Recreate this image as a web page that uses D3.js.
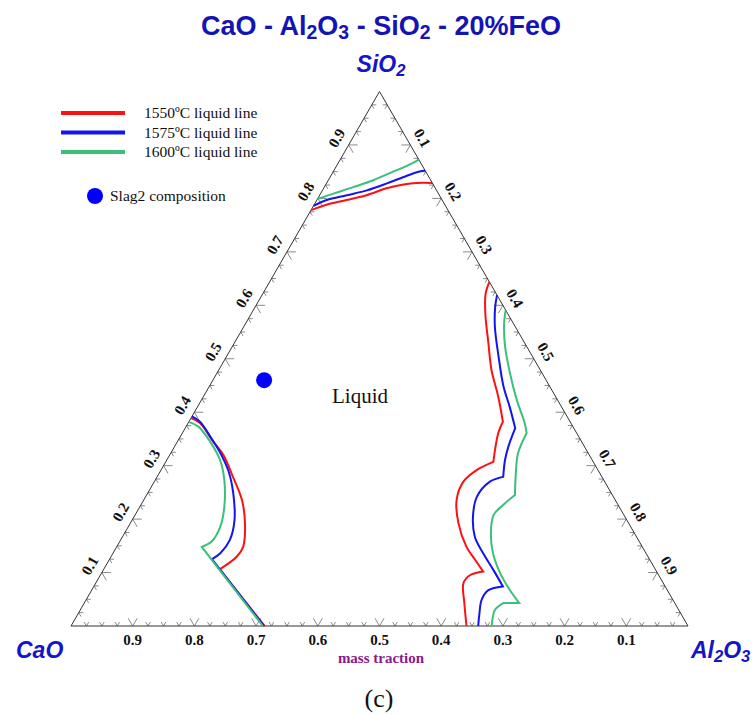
<!doctype HTML>
<html>
  <head>
    <meta charset="utf-8">
    <title>CaO - Al2O3 - SiO2 - 20%FeO</title>
    <style>
      body { margin: 0; background: #fff; }
      .edge { fill: none; stroke: #333; stroke-width: 1px; }
      .tick { fill: none; stroke: #8a8a8a; stroke-width: 1px; }
      .liq { fill: none; stroke-width: 2px; stroke-linejoin: miter; }
      .ticklabel { font-family: "Liberation Serif", serif; font-weight: bold; font-size: 15px; fill: #111; }
      .corner { font-family: "Liberation Sans", Arial, sans-serif; font-weight: bold; font-style: italic; font-size: 23px; fill: #1414c8; }
      .legend { font-family: "Liberation Serif", serif; font-size: 15.5px; fill: #111; }
    </style>
    <script src="https://d3js.org/d3.v7.min.js"></script>
  </head>
  <body>

  <svg width="752" height="715"></svg>

  <script>

  // compositions are [Al2O3, SiO2] mass fractions, CaO = 1 - Al2O3 - SiO2
  var series = ['1550ºC liquid line', '1575ºC liquid line', '1600ºC liquid line'];
  var colors = ['#ff1010', '#1414f0', '#3cbf7a'];

  var red1550Top = [[0,0.778],[0.020,0.788],[0.048,0.797],[0.076,0.806],[0.102,0.819],[0.126,0.826],[0.146,0.829],[0.171,0.829]];
  var blue1575Top = [[0,0.786],[0.016,0.797],[0.044,0.806],[0.072,0.815],[0.098,0.828],[0.119,0.840],[0.136,0.849],[0.148,0.852]];
  var green1600Top = [[0,0.799],[0.021,0.809],[0.047,0.821],[0.073,0.834],[0.097,0.850],[0.114,0.861],[0.128,0.872]];

  var red1550Left = [[0,0.389],[0.019,0.380],[0.058,0.345],[0.087,0.320],[0.123,0.279],[0.159,0.236],[0.186,0.192],[0.205,0.148],[0.204,0.130],[0.188,0.106],[0.314,0]];
  var blue1575Left = [[0,0.392],[0.018,0.382],[0.052,0.351],[0.078,0.326],[0.111,0.289],[0.139,0.248],[0.166,0.198],[0.177,0.161],[0.174,0.136],[0.166,0.125],[0.313,0]];
  var green1600Left = [[0,0.382],[0.020,0.373],[0.053,0.345],[0.086,0.311],[0.112,0.273],[0.137,0.223],[0.149,0.186],[0.149,0.158],[0.138,0.148],[0.311,0]];

  var red1550Right = [[0.356,0.644],[0.361,0.622],[0.379,0.585],[0.412,0.529],[0.442,0.479],[0.478,0.429],[0.509,0.382],[0.512,0.361],[0.531,0.307],[0.512,0.292],[0.501,0.270],[0.507,0.236],[0.532,0.192],[0.567,0.148],[0.593,0.124],[0.617,0.102],[0.599,0.095],[0.596,0.080],[0.616,0.043],[0.641,0]];
  var blue1575Right = [[0.381,0.619],[0.389,0.597],[0.407,0.560],[0.441,0.504],[0.477,0.448],[0.506,0.410],[0.535,0.370],[0.541,0.336],[0.548,0.311],[0.561,0.279],[0.544,0.270],[0.537,0.242],[0.549,0.205],[0.571,0.167],[0.600,0.136],[0.632,0.105],[0.663,0.074],[0.643,0.067],[0.641,0.049],[0.650,0.024],[0.660,0]];
  var green1600Right = [[0.409,0.591],[0.419,0.566],[0.442,0.523],[0.475,0.473],[0.511,0.423],[0.546,0.379],[0.558,0.361],[0.563,0.323],[0.578,0.286],[0.597,0.245],[0.587,0.226],[0.581,0.208],[0.594,0.173],[0.616,0.136],[0.646,0.099],[0.678,0.067],[0.705,0.043],[0.679,0.043],[0.672,0.030],[0.682,0]];

  // indices of sharp corners in each line (the line bends without rounding there)
  var kinksTop = [[], [], []];
  var kinksLeft = [[9], [9], [8]];
  var kinksRight = [[6, 8, 15], [6, 9, 16], [6, 9, 16, 17]];

  var slag2 = [0.083, 0.460];
  var tickLabels = ['0.1','0.2','0.3','0.4','0.5','0.6','0.7','0.8','0.9'];

  var curves = [
    { lines: [red1550Top, blue1575Top, green1600Top], kinks: kinksTop },
    { lines: [red1550Left, blue1575Left, green1600Left], kinks: kinksLeft },
    { lines: [red1550Right, blue1575Right, green1600Right], kinks: kinksRight }
  ];

  var $svg = d3.select('svg');

  // ternary x = Al2O3 + SiO2/2, ternary y = SiO2
  var xScale = d3.scaleLinear().domain([0, 1]).range([71, 688]);
  var yScale = d3.scaleLinear().domain([0, 1]).range([626, 91.5]);

  function project(p) {
    return [xScale(p[0] + p[1] / 2), yScale(p[1])];
  }

  var line = d3.line()
    .x(function(d){ return project(d)[0]; })
    .y(function(d){ return project(d)[1]; });

  var smooth = d3.line()
    .x(function(d){ return project(d)[0]; })
    .y(function(d){ return project(d)[1]; })
    .curve(d3.curveCatmullRom.alpha(0.5));

  // ticks: two short arms parallel to the other edges
  var s3 = Math.sqrt(3) / 2;
  var edges = [
    { at: function(v){ return [v, 0]; }, arms: [[0.5,-s3],[-0.5,-s3]] },
    { at: function(v){ return [0, v]; }, arms: [[1,0],[0.5,s3]] },
    { at: function(v){ return [v, 1 - v]; }, arms: [[-1,0],[-0.5,s3]] }
  ];
  edges.forEach(function(edge){
    d3.range(1, 40).forEach(function(i){
      var p = project(edge.at(i / 40));
      var len = i % 4 === 0 ? 9 : 4.5;
      edge.arms.forEach(function(a){
        $svg.append('line').attr('class', 'tick')
          .attr('x1', p[0]).attr('y1', p[1])
          .attr('x2', p[0] + a[0] * len).attr('y2', p[1] + a[1] * len);
      });
    });
  });

  $svg.append('path').attr('class', 'edge')
    .attr('d', line([[0,0],[1,0],[0,1]]) + 'Z');

  // tick labels
  tickLabels.forEach(function(label, i){
    var v = (i + 1) / 10;
    var pb = project([1 - v, 0]);
    $svg.append('text').attr('class', 'ticklabel')
      .attr('x', pb[0]).attr('y', 645)
      .attr('text-anchor', 'middle').text(label);

    var pl = project([0, v]);
    $svg.append('text').attr('class', 'ticklabel')
      .attr('transform', 'translate(' + (pl[0] - 0.866 * 14) + ',' + (pl[1] - 0.5 * 14) + ') rotate(-60)')
      .attr('text-anchor', 'middle').attr('dy', '0.35em').text(label);

    var pr = project([v, 1 - v]);
    $svg.append('text').attr('class', 'ticklabel')
      .attr('transform', 'translate(' + (pr[0] + 0.866 * 14) + ',' + (pr[1] - 0.5 * 14) + ') rotate(60)')
      .attr('text-anchor', 'middle').attr('dy', '0.35em').text(label);
  });

  // liquidus lines, smooth between corners
  function smoothWithKinks(pts, kinks) {
    var cuts = [0].concat(kinks, [pts.length - 1]);
    var d = '';
    for (var j = 0; j < cuts.length - 1; j++) {
      var seg = smooth(pts.slice(cuts[j], cuts[j + 1] + 1));
      d += j === 0 ? seg : 'L' + seg.slice(1);
    }
    return d;
  }

  curves.forEach(function(group){
    group.lines.forEach(function(pts, k){
      $svg.append('path').attr('class', 'liq')
        .attr('stroke', colors[k]).attr('d', smoothWithKinks(pts, group.kinks[k]));
    });
  });

  // slag composition
  var ps = project(slag2);
  $svg.append('circle').attr('cx', ps[0]).attr('cy', ps[1]).attr('r', 8).attr('fill', '#0000ff');

  $svg.append('text').attr('x', 332).attr('y', 403)
    .style('font-family', '"Liberation Serif", serif').style('font-size', '21px').style('fill', '#111')
    .text('Liquid');

  // legend
  series.forEach(function(name, k){
    var y = 113 + k * 19.5;
    $svg.append('line').attr('x1', 61).attr('x2', 125).attr('y1', y).attr('y2', y)
      .attr('stroke', colors[k]).attr('stroke-width', 4);
    $svg.append('text').attr('class', 'legend').attr('x', 144).attr('y', y + 5).text(name);
  });
  $svg.append('circle').attr('cx', 95).attr('cy', 196).attr('r', 8).attr('fill', '#0000ff');
  $svg.append('text').attr('class', 'legend').attr('x', 110).attr('y', 201).text('Slag2 composition');

  // title and corner labels, with subscripts
  function chem(sel, parts) {
    parts.forEach(function(p){
      var t = sel.append('tspan').text(p[0]);
      if (p[1]) t.attr('baseline-shift', '-22%').style('font-size', '72%');
    });
    return sel;
  }

  chem($svg.append('text').attr('x', 381).attr('y', 35).attr('text-anchor', 'middle')
    .style('font-family', '"Liberation Sans", Arial, sans-serif').style('font-weight', 'bold')
    .style('font-size', '27px').style('fill', '#1414b4'),
    [['CaO - Al'],['2',1],['O'],['3',1],[' - SiO'],['2',1],[' - 20%FeO']]);

  chem($svg.append('text').attr('class', 'corner').attr('x', 381).attr('y', 72).attr('text-anchor', 'middle'),
    [['SiO'],['2',1]]);
  chem($svg.append('text').attr('class', 'corner').attr('x', 16).attr('y', 658),
    [['CaO']]);
  chem($svg.append('text').attr('class', 'corner').attr('x', 691).attr('y', 658),
    [['Al'],['2',1],['O'],['3',1]]);

  $svg.append('text').attr('x', 381).attr('y', 663).attr('text-anchor', 'middle')
    .style('font-family', '"Liberation Serif", serif').style('font-weight', 'bold')
    .style('font-size', '15px').style('fill', '#8a1a8a')
    .text('mass traction');

  $svg.append('text').attr('x', 379).attr('y', 707).attr('text-anchor', 'middle')
    .style('font-family', '"Liberation Serif", serif').style('font-size', '26px').style('fill', '#111')
    .text('(c)');

  </script>

  </body>
</html>
